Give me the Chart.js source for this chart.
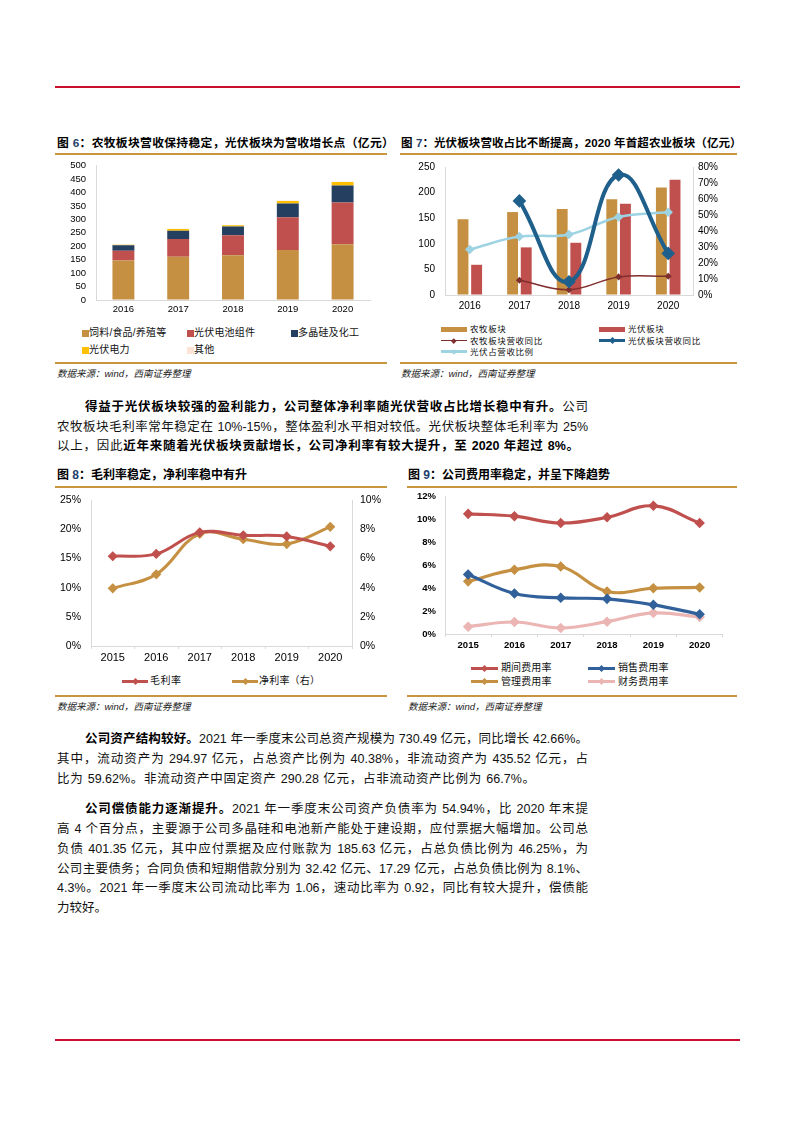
<!DOCTYPE html>
<html lang="zh-CN">
<head>
<meta charset="utf-8">
<title>通威股份 图6-图9</title>
<script src="https://cdn.jsdelivr.net/npm/chart.js@4.4.1/dist/chart.umd.min.js"></script>
<style>
  body { margin: 0; background: #fff; }
  #page { position: relative; width: 793px; height: 1122px; overflow: hidden; background: #fff;
    font-family: "Liberation Sans", "Noto Sans CJK SC", sans-serif; color: #000; }
  .rule { position: absolute; height: 2px; background: #C8102E; }
  .gold { position: absolute; height: 2px; background: #C8963E; }
  .title { position: absolute; font-weight: bold; line-height: 16px; white-space: nowrap; }
  .title i { font-style: normal; color: #1F3F6E; }
  .src { position: absolute; font-size: 9.5px; font-style: italic; line-height: 12px; white-space: nowrap; color: #222; }
  canvas { position: absolute; }
  .lg { position: absolute; white-space: nowrap; line-height: 12px; color: #111; }
  .sw { position: absolute; }
  .ln { position: absolute; font-size: 12.5px; line-height: 20px; text-align: justify; text-align-last: justify; color: #111; }
  .ln.end { text-align-last: left; }
  .ln b { color: #000; }
</style>
</head>
<body>
<div id="page">
  <div class="rule" style="left:55px;top:86px;width:685px"></div>
  <div class="rule" style="left:55px;top:1039px;width:685px"></div>

  <!-- 图6 / 图7 -->
  <div class="title" style="left:57px;top:135px;font-size:11.8px;letter-spacing:0.3px">图 <i>6</i>：农牧板块营收保持稳定，光伏板块为营收增长点（亿元）</div>
  <div class="gold" style="left:55px;top:153px;width:332px"></div>
  <div class="title" style="left:401px;top:135px;font-size:11.5px;letter-spacing:0.1px">图 <i>7</i>：光伏板块营收占比不断提高，2020 年首超农业板块（亿元）</div>
  <div class="gold" style="left:400px;top:153px;width:337px"></div>
  <canvas id="c6"></canvas>
  <canvas id="c7"></canvas>
  <div class="gold" style="left:55px;top:362px;width:332px"></div>
  <div class="gold" style="left:400px;top:362px;width:337px"></div>
  <div class="src" style="left:57px;top:368px">数据来源：wind，西南证券整理</div>
  <div class="src" style="left:401px;top:368px">数据来源：wind，西南证券整理</div>

  <div class="ln" style="left:85px;top:396.7px;width:503px"><b>得益于光伏板块较强的盈利能力，公司整体净利率随光伏营收占比增长稳中有升。</b>公司</div>
  <div class="ln" style="left:57px;top:416.7px;width:531px">农牧板块毛利率常年稳定在 10%-15%，整体盈利水平相对较低。光伏板块整体毛利率为 25%</div>
  <div class="ln" style="left:57px;top:436px;width:522px">以上，因此<b>近年来随着光伏板块贡献增长，公司净利率有较大提升，至 2020 年超过 8%。</b></div>

  <!-- 图8 / 图9 -->
  <div class="title" style="left:57px;top:467px;font-size:12px">图 <i>8</i>：毛利率稳定，净利率稳中有升</div>
  <div class="gold" style="left:55px;top:485.5px;width:332px"></div>
  <div class="title" style="left:408px;top:467px;font-size:12px">图 <i>9</i>：公司费用率稳定，并呈下降趋势</div>
  <div class="gold" style="left:407px;top:485.5px;width:330px"></div>
  <canvas id="c8"></canvas>
  <canvas id="c9"></canvas>
  <div class="gold" style="left:55px;top:695px;width:332px"></div>
  <div class="gold" style="left:407px;top:695px;width:330px"></div>
  <div class="src" style="left:57px;top:701px">数据来源：wind，西南证券整理</div>
  <div class="src" style="left:408px;top:701px">数据来源：wind，西南证券整理</div>

  <div class="ln" style="left:85px;top:729px;width:503px"><b>公司资产结构较好。</b>2021 年一季度末公司总资产规模为 730.49 亿元，同比增长 42.66%。</div>
  <div class="ln" style="left:57px;top:749px;width:531px">其中，流动资产为 294.97 亿元，占总资产比例为 40.38%，非流动资产为 435.52 亿元，占</div>
  <div class="ln" style="left:57px;top:769px;width:478px">比为 59.62%。非流动资产中固定资产 290.28 亿元，占非流动资产比例为 66.7%。</div>

  <div class="ln" style="left:85px;top:799px;width:503px"><b>公司偿债能力逐渐提升。</b>2021 年一季度末公司资产负债率为 54.94%，比 2020 年末提</div>
  <div class="ln" style="left:57px;top:819px;width:531px">高 4 个百分点，主要源于公司多晶硅和电池新产能处于建设期，应付票据大幅增加。公司总</div>
  <div class="ln" style="left:57px;top:839px;width:531px">负债 401.35 亿元，其中应付票据及应付账款为 185.63 亿元，占总负债比例为 46.25%，为</div>
  <div class="ln" style="left:57px;top:858.7px;width:531px">公司主要债务；合同负债和短期借款分别为 32.42 亿元、17.29 亿元，占总负债比例为 8.1%、</div>
  <div class="ln" style="left:57px;top:878.3px;width:531px">4.3%。2021 年一季度末公司流动比率为 1.06，速动比率为 0.92，同比有较大提升，偿债能</div>
  <div class="ln end" style="left:57px;top:898px;width:531px">力较好。</div>
</div>

<script>
// 图6 营收构成（亿元）
const years6 = ['2016', '2017', '2018', '2019', '2020'];
const feedFood = [147, 161, 167, 186, 208];
const pvModules = [36, 66, 74, 122, 155];
const polySilicon = [21, 31, 33, 51, 63];
const pvPower = [2, 6, 4, 10, 13];
const otherBiz = [1, 1, 1, 1, 1];
const ticks6 = [0, 50, 100, 150, 200, 250, 300, 350, 400, 450, 500];

// 图7 板块营收（亿元）与同比/占比（%）
const years7 = ['2016', '2017', '2018', '2019', '2020'];
const agriRev = [148, 162, 168, 187, 210];
const pvRev = [59, 93, 102, 178, 225];
const agriYoY = [null, 9.2, 3.3, 11.3, 11.7];
const pvYoY = [null, 58.8, 8.3, 75.0, 26.0];
const pvShare = [28.5, 36.5, 37.8, 48.8, 51.7];
const ticks7L = [0, 50, 100, 150, 200, 250];
const ticks7R = [0, 10, 20, 30, 40, 50, 60, 70, 80];

// 图8 毛利率 / 净利率（%）
const years8 = ['2015', '2016', '2017', '2018', '2019', '2020'];
const grossMargin = [15.4, 15.8, 19.5, 19.0, 18.8, 17.1];
const netMargin = [3.96, 4.92, 7.7, 7.33, 7.0, 8.18];
const ticks8L = [0, 5, 10, 15, 20, 25];
const ticks8R = [0, 2, 4, 6, 8, 10];

// 图9 费用率（%）
const years9 = ['2015', '2016', '2017', '2018', '2019', '2020'];
const periodRate = [10.5, 10.3, 9.7, 10.2, 11.2, 9.7];
const salesRate = [5.2, 3.54, 3.16, 3.07, 2.55, 1.73];
const mgmtRate = [4.6, 5.62, 5.9, 3.72, 4.0, 4.07];
const finRate = [0.64, 1.05, 0.53, 1.08, 1.84, 1.49];
const ticks9 = [0, 2, 4, 6, 8, 10, 12];

const GOLD = '#C59042';
const RED = '#C0504D';
const NAVY = '#243F60';
const YELLOW = '#FFC000';
const PALE = '#FCE4D6';
const AXIS = '#D9D9D9';

Chart.defaults.font.family = '"Liberation Sans", "Noto Sans CJK SC", sans-serif';
Chart.defaults.color = '#000';
Chart.defaults.animation = false;
Chart.defaults.plugins.legend.display = false;
Chart.defaults.plugins.tooltip.enabled = false;

const page = document.getElementById('page');

// create the chart, then size and move the canvas so the plot area sits on the wanted rectangle
function makeChart(id, want, config) {
  const c = document.getElementById(id);
  const w0 = want.right - want.left + 80, h0 = want.bottom - want.top + 40;
  c.width = w0; c.height = h0;
  c.style.width = w0 + 'px'; c.style.height = h0 + 'px';
  config.options.responsive = false;
  config.options.maintainAspectRatio = false;
  config.options.devicePixelRatio = 1;
  const chart = new Chart(c, config);
  let a = chart.chartArea;
  const w = Math.round(chart.width + (want.right - want.left) - (a.right - a.left));
  const h = Math.round(chart.height + (want.bottom - want.top) - (a.bottom - a.top));
  chart.resize(w, h);
  a = chart.chartArea;
  c.style.left = Math.round(want.left - a.left) + 'px';
  c.style.top = Math.round(want.top - a.top) + 'px';
  return chart;
}

function valueAxis(o) {
  return {
    position: o.position,
    stacked: !!o.stacked,
    min: o.list[0],
    max: o.list[o.list.length - 1],
    afterFit: s => { s.width = o.width; },
    afterBuildTicks: s => { s.ticks = o.list.map(v => ({ value: v })); },
    grid: { drawOnChartArea: false, drawTicks: false },
    border: { display: o.border !== false, color: AXIS },
    ticks: {
      autoSkip: false,
      padding: o.pad,
      font: { size: o.size, weight: o.bold ? 'bold' : 'normal' },
      callback: v => v + (o.suffix || '')
    }
  };
}

function categoryAxis(o) {
  return {
    offset: true,
    stacked: !!o.stacked,
    afterFit: s => { s.height = o.height; },
    grid: { drawOnChartArea: false, drawTicks: !!o.tick, tickLength: o.tick || 0, offset: true, color: AXIS },
    border: { color: AXIS },
    ticks: { autoSkip: false, padding: o.pad, font: { size: o.size, weight: o.bold ? 'bold' : 'normal' }, maxRotation: 0 }
  };
}

// legend swatches: box, bar or line with a marker
function legendItem(kind, color, text, x, y, textX, font, opt) {
  opt = opt || {};
  const sw = document.createElement('div');
  sw.className = 'sw';
  if (kind === 'box') {
    Object.assign(sw.style, { left: x + 'px', top: (y - 3.5) + 'px', width: '7px', height: '7px', background: color });
    page.appendChild(sw);
  } else if (kind === 'bar') {
    Object.assign(sw.style, { left: x + 'px', top: (y - 2.5) + 'px', width: '26px', height: '5px', background: color });
    page.appendChild(sw);
  } else {
    const lw = opt.lw || 3;
    Object.assign(sw.style, { left: x + 'px', top: (y - lw / 2) + 'px', width: (opt.w || 27) + 'px', height: lw + 'px', background: color });
    page.appendChild(sw);
    const mk = document.createElement('div');
    mk.className = 'sw';
    const m = opt.mk || 5;
    Object.assign(mk.style, { left: (x + (opt.w || 27) / 2 - m / 2) + 'px', top: (y - m / 2) + 'px', width: m + 'px', height: m + 'px',
      background: color, transform: 'rotate(45deg)' });
    page.appendChild(mk);
  }
  const t = document.createElement('div');
  t.className = 'lg';
  t.textContent = text;
  Object.assign(t.style, { left: textX + 'px', top: (y - 6) + 'px', fontSize: font.size + 'px', letterSpacing: (font.ls || 0) + 'px' });
  page.appendChild(t);
}

// ---------- 图6 ----------
const set6 = [
  { label: '饲料/食品/养殖等', data: feedFood, backgroundColor: GOLD },
  { label: '光伏电池组件', data: pvModules, backgroundColor: RED },
  { label: '多晶硅及化工', data: polySilicon, backgroundColor: NAVY },
  { label: '光伏电力', data: pvPower, backgroundColor: YELLOW },
  { label: '其他', data: otherBiz, backgroundColor: PALE }
];
makeChart('c6', { left: 96, top: 166, right: 370, bottom: 300 }, {
  type: 'bar',
  data: { labels: years6, datasets: set6 },
  options: {
    layout: { padding: { top: 8, right: 10, left: 0, bottom: 0 } },
    datasets: { bar: { barPercentage: 0.4, categoryPercentage: 1 } },
    scales: {
      x: categoryAxis({ height: 22, pad: 4, size: 9.5, stacked: true }),
      y: valueAxis({ position: 'left', width: 41, list: ticks6, pad: 10, size: 9.5, stacked: true })
    }
  }
});
const lg6 = [[82, 333], [187, 333], [291, 333], [82, 350], [187, 350]];
set6.forEach((d, i) => legendItem('box', d.backgroundColor, d.label, lg6[i][0], lg6[i][1], lg6[i][0] + 7, { size: 10, ls: 0.2 }));

// ---------- 图7 ----------
makeChart('c7', { left: 445, top: 167, right: 693, bottom: 295 }, {
  type: 'bar',
  data: {
    labels: years7,
    datasets: [
      { type: 'line', label: '光伏板块营收同比', data: pvYoY, yAxisID: 'y1', order: 0, borderColor: '#1F5F8B', backgroundColor: '#1F5F8B',
        borderWidth: 4, tension: 0.45, pointStyle: 'rectRot', pointRadius: 4 },
      { type: 'line', label: '农牧板块营收同比', data: agriYoY, yAxisID: 'y1', order: 1, borderColor: '#7F2E2E', backgroundColor: '#7F2E2E',
        borderWidth: 1.5, tension: 0.4, pointStyle: 'rectRot', pointRadius: 2.5 },
      { type: 'line', label: '光伏占营收比例', data: pvShare, yAxisID: 'y1', order: 2, borderColor: '#9DD3E2', backgroundColor: '#9DD3E2',
        borderWidth: 2.5, tension: 0.4, pointStyle: 'rectRot', pointRadius: 3 },
      { label: '农牧板块', data: agriRev, yAxisID: 'y', order: 3, backgroundColor: GOLD, barPercentage: 0.8, categoryPercentage: 0.55 },
      { label: '光伏板块', data: pvRev, yAxisID: 'y', order: 3, backgroundColor: RED, barPercentage: 0.8, categoryPercentage: 0.55 }
    ]
  },
  options: {
    layout: { padding: { top: 8, right: 0, left: 0, bottom: 0 } },
    scales: {
      x: categoryAxis({ height: 22, pad: 5, size: 10 }),
      y: valueAxis({ position: 'left', width: 44, list: ticks7L, pad: 10, size: 10 }),
      y1: valueAxis({ position: 'right', width: 37, list: ticks7R, pad: 5, size: 10, suffix: '%' })
    }
  }
});
legendItem('bar', GOLD, '农牧板块', 441, 329, 470, { size: 8.5, ls: 0.6 });
legendItem('bar', RED, '光伏板块', 599, 329, 628, { size: 8.5, ls: 0.6 });
legendItem('line', '#7F2E2E', '农牧板块营收同比', 441, 340.7, 470, { size: 8.5, ls: 0.6 }, { w: 26, lw: 1.5, mk: 3.5 });
legendItem('line', '#1F5F8B', '光伏板块营收同比', 599, 340.7, 628, { size: 8.5, ls: 0.6 }, { w: 26, lw: 3.5, mk: 5 });
legendItem('line', '#9DD3E2', '光伏占营收比例', 441, 351.7, 470, { size: 8.5, ls: 0.6 }, { w: 26, lw: 2.5, mk: 4 });

// ---------- 图8 ----------
makeChart('c8', { left: 91, top: 500, right: 352, bottom: 646 }, {
  type: 'line',
  data: {
    labels: years8,
    datasets: [
      { label: '毛利率', data: grossMargin, yAxisID: 'y', borderColor: RED, backgroundColor: RED,
        borderWidth: 3, tension: 0.4, pointStyle: 'rectRot', pointRadius: 3 },
      { label: '净利率（右）', data: netMargin, yAxisID: 'y1', borderColor: GOLD, backgroundColor: GOLD,
        borderWidth: 3, tension: 0.4, pointStyle: 'rectRot', pointRadius: 3 }
    ]
  },
  options: {
    layout: { padding: { top: 8, right: 0, left: 0, bottom: 0 } },
    scales: {
      x: categoryAxis({ height: 22, pad: 2, size: 11, tick: 3 }),
      y: valueAxis({ position: 'left', width: 36, list: ticks8L, pad: 10, size: 10.5, suffix: '%' }),
      y1: valueAxis({ position: 'right', width: 38, list: ticks8R, pad: 8, size: 10.5, suffix: '%' })
    }
  }
});
legendItem('line', RED, '毛利率', 122, 681, 150, { size: 10, ls: 0.5 }, { w: 26, lw: 3, mk: 5 });
legendItem('line', GOLD, '净利率（右）', 232, 681, 259, { size: 10, ls: 0.2 }, { w: 26, lw: 3, mk: 5 });

// ---------- 图9 ----------
const BLUE9 = '#31609A';
const PINK9 = '#EBB5B4';
makeChart('c9', { left: 445, top: 497, right: 723, bottom: 634 }, {
  type: 'line',
  data: {
    labels: years9,
    datasets: [
      { label: '期间费用率', data: periodRate, borderColor: RED, backgroundColor: RED, borderWidth: 3.2, tension: 0.4, pointStyle: 'rectRot', pointRadius: 3 },
      { label: '销售费用率', data: salesRate, borderColor: BLUE9, backgroundColor: BLUE9, borderWidth: 3.2, tension: 0.4, pointStyle: 'rectRot', pointRadius: 3 },
      { label: '管理费用率', data: mgmtRate, borderColor: GOLD, backgroundColor: GOLD, borderWidth: 3.2, tension: 0.4, pointStyle: 'rectRot', pointRadius: 3 },
      { label: '财务费用率', data: finRate, borderColor: PINK9, backgroundColor: PINK9, borderWidth: 3.2, tension: 0.4, pointStyle: 'rectRot', pointRadius: 3 }
    ]
  },
  options: {
    layout: { padding: { top: 8, right: 7, left: 0, bottom: 0 } },
    scales: {
      x: categoryAxis({ height: 22, pad: 2.7, size: 9.5, bold: true, tick: 3 }),
      y: valueAxis({ position: 'left', width: 44, list: ticks9, pad: 9, size: 9.5, bold: true, suffix: '%' })
    }
  }
});
legendItem('line', RED, '期间费用率', 471, 668.3, 501, { size: 10, ls: 0.1 }, { w: 27, lw: 3, mk: 5 });
legendItem('line', BLUE9, '销售费用率', 588, 668.3, 618, { size: 10, ls: 0.1 }, { w: 27, lw: 3, mk: 5 });
legendItem('line', GOLD, '管理费用率', 471, 681.7, 501, { size: 10, ls: 0.1 }, { w: 27, lw: 3, mk: 5 });
legendItem('line', PINK9, '财务费用率', 588, 681.7, 618, { size: 10, ls: 0.1 }, { w: 27, lw: 3, mk: 5 });
</script>
</body>
</html>
